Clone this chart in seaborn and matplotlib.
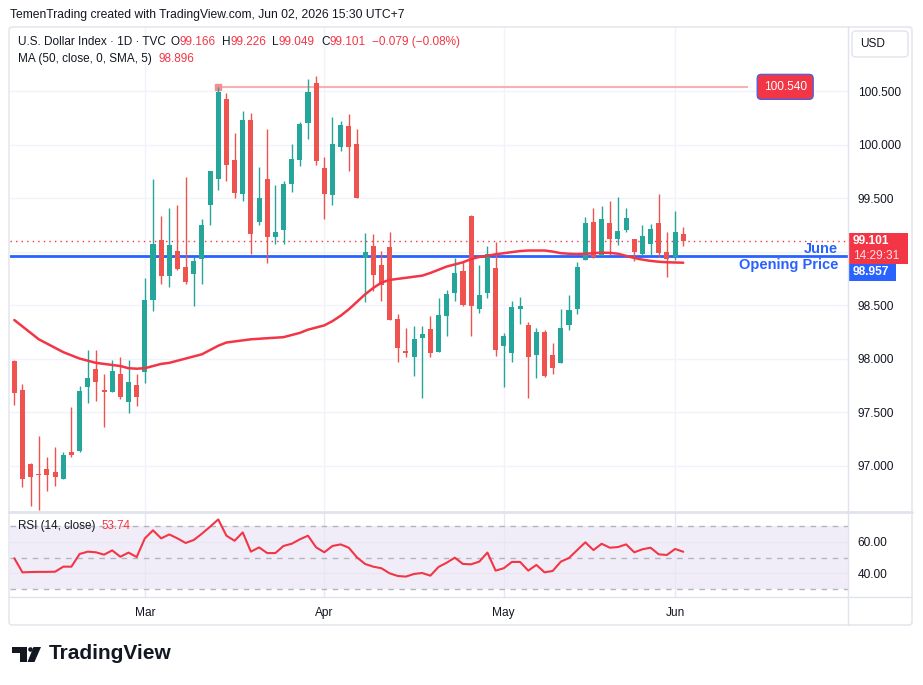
import numpy as np
import pandas as pd
import matplotlib.pyplot as plt
import matplotlib.transforms as mtransforms
from matplotlib.patches import Rectangle, FancyBboxPatch, Circle, Polygon
from matplotlib.lines import Line2D
import seaborn as sns

# daily bars, U.S. Dollar Index (TVC)
dates = pd.bdate_range("2026-02-06", "2026-06-02")

open_ = [97.98, 97.71, 97.01, 96.92, 96.97, 96.94, 96.87, 97.13, 97.14, 97.73,
         97.90, 97.70, 97.69, 97.86, 97.59, 97.75, 97.87, 98.55, 99.11, 98.77,
         99.01, 98.86, 98.79, 98.93, 99.44, 99.68, 100.43, 99.86, 99.54, 100.23,
         99.28, 99.68, 99.14, 99.20, 99.63, 99.86, 100.20, 100.58, 99.78, 99.53,
         99.98, 100.17, 100.01, 98.94, 99.05, 98.87, 99.04, 98.37, 98.07, 98.01,
         98.19, 98.28, 98.06, 98.40, 98.61, 98.82, 99.33, 98.46, 98.61, 98.85,
         98.12, 98.05, 98.46, 98.31, 98.03, 98.25, 98.03, 97.96, 98.31, 98.46,
         98.92, 99.28, 98.96, 99.27, 99.12, 99.20, 99.12, 98.98, 99.07, 99.27,
         99.00, 98.95, 99.166]
high = [97.99, 97.76, 97.02, 97.28, 97.08, 97.17, 97.13, 97.55, 97.74, 98.08,
        98.08, 97.86, 97.99, 98.01, 97.99, 97.86, 98.75, 99.68, 99.33, 99.41,
        99.44, 99.70, 98.95, 99.30, 99.75, 100.54, 100.48, 100.11, 100.31, 100.30,
        99.79, 100.15, 99.62, 99.66, 100.01, 100.21, 100.61, 100.64, 99.88, 100.26,
        100.22, 100.29, 100.15, 99.17, 99.16, 99.01, 99.18, 98.42, 98.29, 98.30,
        98.30, 98.40, 98.57, 98.64, 98.94, 98.91, 99.34, 98.87, 99.05, 99.09,
        98.24, 98.54, 98.58, 98.34, 98.29, 98.27, 98.15, 98.46, 98.59, 98.90,
        99.32, 99.41, 99.43, 99.47, 99.51, 99.41, 99.12, 99.25, 99.26, 99.54,
        99.18, 99.38, 99.226]
low = [97.57, 96.80, 96.62, 96.58, 96.76, 96.81, 96.87, 97.08, 97.13, 97.58,
       97.60, 97.36, 97.69, 97.62, 97.49, 97.56, 97.77, 98.44, 98.70, 98.67,
       98.83, 98.70, 98.49, 98.70, 99.25, 99.58, 99.66, 99.50, 99.47, 98.98,
       99.25, 98.89, 99.07, 99.07, 99.56, 99.80, 100.05, 99.81, 99.30, 99.44,
       99.94, 99.75, 99.50, 98.53, 98.63, 98.54, 98.36, 97.97, 98.01, 97.84,
       97.63, 98.01, 98.06, 98.21, 98.54, 98.49, 98.21, 98.43, 98.57, 98.02,
       97.73, 97.97, 98.32, 97.63, 97.82, 97.83, 97.86, 97.96, 98.27, 98.42,
       98.92, 98.94, 98.96, 98.97, 99.06, 99.18, 98.91, 98.97, 98.97, 98.95,
       98.76, 98.92, 99.049]
close = [97.68, 96.87, 96.89, 96.91, 96.91, 96.89, 97.10, 97.10, 97.70, 97.82,
         97.78, 97.69, 97.88, 97.64, 97.78, 97.64, 98.55, 99.07, 98.77, 99.06,
         98.84, 98.72, 98.91, 99.25, 99.75, 100.49, 99.81, 99.55, 100.23, 99.16,
         99.50, 99.14, 99.18, 99.63, 99.87, 100.19, 100.49, 99.85, 99.54, 100.01,
         100.18, 99.98, 99.50, 99.00, 98.78, 98.69, 98.36, 98.10, 98.05, 98.18,
         98.23, 98.05, 98.41, 98.60, 98.80, 98.50, 98.49, 98.59, 98.98, 98.08,
         98.21, 98.48, 98.49, 98.01, 98.25, 97.84, 97.91, 98.29, 98.45, 98.86,
         99.27, 98.95, 99.30, 99.12, 99.19, 99.31, 99.00, 99.15, 99.21, 98.99,
         98.93, 99.18, 99.101]

ma50 = [98.36, 98.30, 98.24, 98.18, 98.14, 98.10, 98.06, 98.03, 98.00, 97.98,
        97.96, 97.95, 97.94, 97.93, 97.91, 97.905, 97.91, 97.93, 97.95, 97.96,
        97.98, 98.00, 98.02, 98.04, 98.08, 98.12, 98.15, 98.16, 98.17, 98.18,
        98.185, 98.19, 98.195, 98.20, 98.22, 98.24, 98.27, 98.29, 98.31, 98.35,
        98.40, 98.46, 98.53, 98.60, 98.66, 98.71, 98.735, 98.745, 98.755, 98.765,
        98.775, 98.80, 98.83, 98.86, 98.88, 98.90, 98.93, 98.95, 98.96, 98.975,
        98.985, 98.995, 99.005, 99.01, 99.01, 99.01, 99.00, 98.985, 98.98, 98.977,
        98.98, 98.985, 98.99, 98.988, 98.98, 98.96, 98.94, 98.925, 98.913, 98.905,
        98.90, 98.898, 98.896]

rsi = [49.6, 40.7, 40.9, 41.0, 41.0, 41.1, 44.3, 44.3, 52.3, 53.8,
       53.4, 51.9, 54.6, 50.6, 53.2, 50.4, 62.2, 67.3, 62.2, 64.7,
       62.2, 59.3, 61.2, 65.2, 69.6, 74.2, 63.9, 60.7, 66.0, 53.8,
       56.5, 52.9, 52.9, 57.4, 58.8, 61.6, 63.9, 56.5, 53.4, 57.4,
       58.4, 56.3, 50.2, 46.0, 44.3, 43.3, 40.1, 38.4, 38.0, 39.7,
       40.3, 38.6, 44.1, 46.8, 50.0, 46.0, 45.8, 47.5, 53.2, 41.8,
       43.3, 47.3, 47.3, 41.8, 45.4, 40.7, 41.6, 47.5, 49.8, 54.8,
       59.7, 54.8, 58.8, 56.3, 56.7, 58.4, 53.4, 55.3, 56.3, 52.1,
       51.7, 55.5, 53.74]

price_ticks = [97.0, 97.5, 98.0, 98.5, 99.0, 99.5, 100.0, 100.5]
price_labels = ["97.000", "97.500", "98.000", "98.500", "", "99.500", "100.000", "100.500"]
rsi_ticks = [40, 60]
rsi_labels = ["40.00", "60.00"]
month_names = ["Mar", "Apr", "May", "Jun"]

june_open = 98.957
level = 100.540
level_from = 25      # bar index where the horizontal level starts
level_to = 90
level_label_at = 94.5

sns.set_style("white")
plt.rcParams["font.family"] = ["Liberation Sans", "DejaVu Sans"]

GREEN = "#26a69a"
RED = "#ef5350"
LINE_RED = "#f23645"
BLUE = "#2962ff"
TEXT = "#131722"
GRID = "#f0f3fa"
BORDER = "#e0e3eb"

W, H = 923, 685
fig = plt.figure(figsize=(W / 100, H / 100), dpi=100)
PX = mtransforms.IdentityTransform()
renderer = fig.canvas.get_renderer()


def fbox(x0, y0, x1, y1):
    return [x0 / W, 1 - y1 / H, (x1 - x0) / W, (y1 - y0) / H]


def ftext(x, y, s, **kw):
    return fig.text(x / W, 1 - y / H, s, **kw)


def text_run(x, y, pieces, size):
    # place coloured pieces one after another, gap in pixels before each
    for s, colr, gap in pieces:
        x += gap
        t = ftext(x, y, s, fontsize=size, color=colr, va="center")
        x += t.get_window_extent(renderer).width


XMIN, XMAX = -0.53, 102.2
YBOT, YTOP = 96.575, 101.09
MAIN_TOP, MAIN_BOT = 28, 511


def py(price):
    return MAIN_TOP + (YTOP - price) / (YTOP - YBOT) * (MAIN_BOT - MAIN_TOP)


ax = fig.add_axes(fbox(10, MAIN_TOP, 848, MAIN_BOT))
ax_rsi = fig.add_axes(fbox(10, 512, 848, 597))

idx = np.arange(len(dates))
o, h, l, c = (np.array(v) for v in (open_, high, low, close))
col = np.where(c >= o, GREEN, RED)
month_idx = [int(np.argmax(dates.month == m)) for m in (3, 4, 5, 6)]

df = pd.DataFrame({"idx": idx, "ma": ma50, "rsi": rsi})

# price panel
ax.axhline(june_open, color=BLUE, lw=2, zorder=2)
ax.axhline(c[-1], color=LINE_RED, lw=1, ls=(0, (1, 3)), zorder=2)
ax.hlines(level, level_from, level_to, color="#f7b0b3", lw=1.5, zorder=2)
ax.plot([level_from], [level], "s", ms=4, color="#f48c92", zorder=2)

ax.vlines(idx, l, h, colors=col, lw=1, zorder=3)
ax.bar(idx, np.maximum(np.abs(c - o), 0.012), bottom=np.minimum(o, c),
       width=0.62, color=col, lw=0, zorder=3)
sns.lineplot(data=df, x="idx", y="ma", ax=ax, color=LINE_RED, lw=1.8, zorder=4)

ax.set_xlim(XMIN, XMAX)
ax.set_ylim(YBOT, YTOP)
ax.yaxis.tick_right()
ax.set_yticks(price_ticks)
ax.set_yticklabels(price_labels)
ax.set_xticks(month_idx)
ax.tick_params(axis="x", labelbottom=False, length=0)
ax.tick_params(axis="y", length=0, pad=7, labelsize=8.6, labelcolor=TEXT)
ax.grid(True, color=GRID, lw=1)
ax.set_axisbelow(True)
ax.set_xlabel("")
ax.set_ylabel("")
for s in ax.spines.values():
    s.set_visible(False)

ax.text(level_label_at, level, f"{level:.3f}", ha="center", va="center",
        color="white", fontsize=8.6, zorder=6,
        bbox=dict(boxstyle="round,pad=0.55,rounding_size=0.35", fc=LINE_RED, ec=BLUE, lw=0.8))

for txt, dy in (("June", 7), ("Opening Price", -9)):
    ax.annotate(txt, xy=(1, june_open), xycoords=("axes fraction", "data"),
                xytext=(-10, dy), textcoords="offset pixels", ha="right", va="center",
                color=BLUE, fontsize=10.5, fontweight="bold", zorder=6)

# RSI panel
ax_rsi.axhspan(30, 70, color="#7e57c2", alpha=0.1, lw=0, zorder=0)
for v in (70, 50, 30):
    ax_rsi.axhline(v, color="#b2b5be", lw=1, ls=(0, (4, 4)), zorder=1)
sns.lineplot(data=df, x="idx", y="rsi", ax=ax_rsi, color=LINE_RED, lw=1.5, zorder=3)
ax_rsi.set_xlim(XMIN, XMAX)
ax_rsi.set_ylim(25.1, 78.9)
ax_rsi.yaxis.tick_right()
ax_rsi.set_yticks(rsi_ticks)
ax_rsi.set_yticklabels(rsi_labels)
ax_rsi.set_xticks(month_idx)
ax_rsi.set_xticklabels(month_names)
ax_rsi.tick_params(axis="x", length=0, pad=7, labelsize=8.6, labelcolor=TEXT)
ax_rsi.tick_params(axis="y", length=0, pad=7, labelsize=8.6, labelcolor=TEXT)
ax_rsi.grid(True, color="#ebe4f3", lw=1)
ax_rsi.set_axisbelow(True)
ax_rsi.set_xlabel("")
ax_rsi.set_ylabel("")
for s in ax_rsi.spines.values():
    s.set_visible(False)

# frame and separators
fig.add_artist(FancyBboxPatch((9, H - 625), 903, 598, boxstyle="round,pad=0,rounding_size=3",
                              transform=PX, fill=False, ec=BORDER, lw=1))
fig.add_artist(Line2D([848 / W, 848 / W], [1 - 27 / H, 1 - 625 / H], color=BORDER, lw=1))
fig.add_artist(Line2D([9 / W, 912 / W], [1 - 511.5 / H] * 2, color=BORDER, lw=2))
fig.add_artist(Line2D([9 / W, 912 / W], [1 - 597 / H] * 2, color=BORDER, lw=1))

# price scale labels
fig.add_artist(FancyBboxPatch((852, H - 57), 56, 26, boxstyle="round,pad=0,rounding_size=4",
                              transform=PX, fc="white", ec=BORDER, lw=1))
ftext(860, 44, "USD", fontsize=8.6, color=TEXT, va="center")

y_last = py(c[-1])
fig.add_artist(Rectangle((848, H - (y_last + 23)), 60, 31, transform=PX, fc=LINE_RED, ec="none"))
ftext(853, y_last, f"{c[-1]:.3f}", fontsize=8.6, color="white", va="center", fontweight="bold")
ftext(853, y_last + 15, "14:29:31", fontsize=8.6, color="#fde1e3", va="center")
fig.add_artist(Rectangle((848, H - (y_last + 40)), 48, 17, transform=PX, fc=BLUE, ec="none"))
ftext(853, y_last + 31.5, f"{june_open:.3f}", fontsize=8.6, color="white", va="center",
      fontweight="bold")

# header and legends
ftext(10, 15, "TemenTrading created with TradingView.com, Jun 02, 2026 15:30 UTC+7",
      fontsize=8.7, color=TEXT, va="center")
chg = c[-1] - c[-2]
pct = chg / c[-2] * 100
text_run(18, 42, [("U.S. Dollar Index · 1D · TVC", TEXT, 0),
                  ("O", TEXT, 5), (f"{o[-1]:.3f}", LINE_RED, 0),
                  ("H", TEXT, 6), (f"{h[-1]:.3f}", LINE_RED, 0),
                  ("L", TEXT, 6), (f"{l[-1]:.3f}", LINE_RED, 0),
                  ("C", TEXT, 6), (f"{c[-1]:.3f}", LINE_RED, 0),
                  (f"{chg:+.3f} ({pct:+.2f}%)".replace("-", "\u2212"), LINE_RED, 6)], 8.5)
text_run(18, 59, [("MA (50, close, 0, SMA, 5)", TEXT, 0),
                  (f"{ma50[-1]:.3f}", LINE_RED, 7)], 8.5)
text_run(18, 526, [("RSI (14, close)", TEXT, 0),
                   (f"{rsi[-1]:.2f}", LINE_RED, 6)], 8.4)

# TradingView footer logo
fig.add_artist(Polygon([(12, H - 647), (27, H - 647), (27, H - 662), (20, H - 662),
                        (20, H - 653), (12, H - 653)], closed=True, transform=PX,
                       fc="#131722", ec="none"))
fig.add_artist(Circle((30.5, H - 649.5), 2.3, transform=PX, fc="#131722", ec="none"))
fig.add_artist(Polygon([(33.5, H - 647), (41, H - 647), (34.5, H - 662), (27.5, H - 662)],
                       closed=True, transform=PX, fc="#131722", ec="none"))
ftext(49, 659, "TradingView", fontsize=15, fontweight="bold", color="#131722", va="baseline")

fig.savefig("out.png", dpi=100)
